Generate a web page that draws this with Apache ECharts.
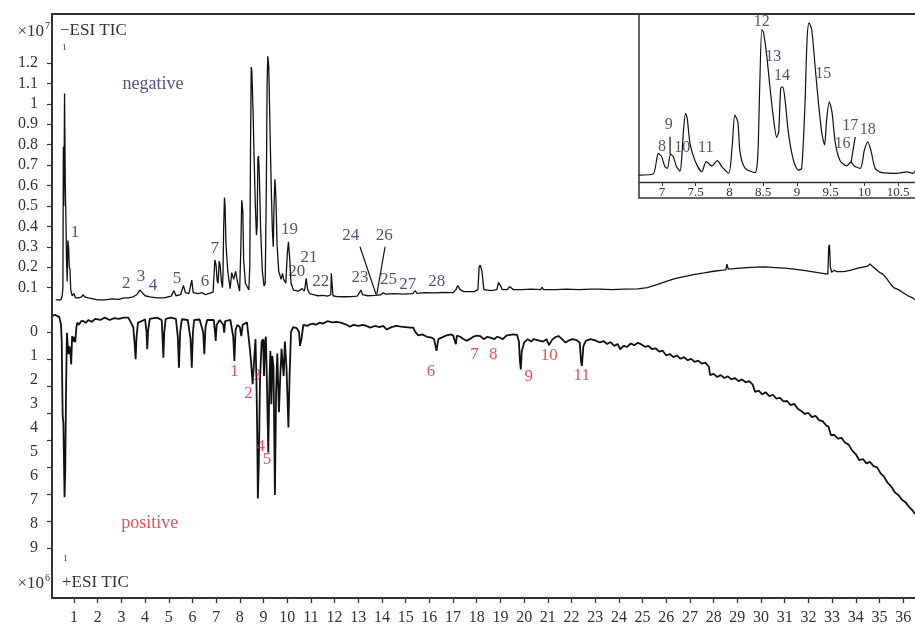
<!DOCTYPE html>
<html><head><meta charset="utf-8">
<script src="https://cdn.jsdelivr.net/npm/echarts@6/dist/echarts.min.js"></script>
<style>html,body{margin:0;padding:0;background:#fff}#c{width:915px;height:626px}</style>
</head><body><div id="c"></div>
<script>
const FONT = 'Liberation Serif';
const NAVY = '#1f2a62';
const RED = '#e8202a';
const INK = '#111';
const AXIS = '#333';

// ---- tick labels ----
const xTicks = [1,2,3,4,5,6,7,8,9,10,11,12,13,14,15,16,17,18,19,20,21,22,23,24,25,26,27,28,29,30,31,32,33,34,35,36];
const negYTicks = [0.1,0.2,0.3,0.4,0.5,0.6,0.7,0.8,0.9,1,1.1,1.2];
const posYLabels = [0,1,2,3,4,5,6,7,8,9];
const posYMarks = [0,1,2,3,4,5,6,7,8];
const insetTicks = [7,7.5,8,8.5,9,9.5,10,10.5];

// ---- negative mode, -ESI TIC (x10^7): [time min, intensity] ----
const negStart = [[0.23,0.04],[0.45,0.04],[0.5,0.06],[0.53,0.1],[0.55,0.79],[0.57,0.5],[0.6,1.05],[0.63,0.61],[0.66,0.42],[0.68,0.25],[0.71,0.13],[0.74,0.33],[0.77,0.3],[0.8,0.2],[0.83,0.19],[0.86,0.09],[0.92,0.06],[1.0,0.07],[1.06,0.05],[1.2,0.05],[1.32,0.055],[1.38,0.065],[1.45,0.055],[1.6,0.05],[1.8,0.045],[2.0,0.04],[2.3,0.04],[2.6,0.045],[2.9,0.042],[3.1,0.05],[3.3,0.05],[3.5,0.055],[3.65,0.065],[3.78,0.088],[3.88,0.075],[4.0,0.06],[4.2,0.055],[4.5,0.05],[4.8,0.05],[5.1,0.058],[5.22,0.085],[5.3,0.06],[5.5,0.065],[5.62,0.11],[5.7,0.075],[5.85,0.07],[5.97,0.137],[6.03,0.075],[6.25,0.07],[6.4,0.075],[6.48,0.075],[6.55,0.065],[6.62,0.07]];
const negZoom = [[6.67,0.07],[6.87,0.078],[6.945,0.236],[6.995,0.21],[7.045,0.133],[7.08,0.121],[7.128,0.23],[7.168,0.21],[7.217,0.133],[7.267,0.10],[7.29,0.18],[7.316,0.388],[7.35,0.541],[7.375,0.503],[7.415,0.312],[7.49,0.18],[7.59,0.095],[7.657,0.173],[7.74,0.14],[7.82,0.18],[7.89,0.133],[7.99,0.083],[8.04,0.286],[8.08,0.528],[8.124,0.477],[8.16,0.236],[8.235,0.121],[8.38,0.088],[8.42,0.21],[8.45,0.77],[8.48,1.18],[8.505,1.16],[8.555,0.973],[8.6,0.744],[8.65,0.515],[8.7,0.358],[8.73,0.40],[8.76,0.732],[8.79,0.744],[8.825,0.642],[8.875,0.388],[8.95,0.18],[9.02,0.108],[9.07,0.121],[9.12,0.617],[9.15,1.10],[9.18,1.233],[9.22,1.18],[9.27,0.897],[9.32,0.617],[9.37,0.388],[9.41,0.30],[9.44,0.49],[9.48,0.63],[9.52,0.55],[9.57,0.312],[9.64,0.18],[9.74,0.14],[9.8,0.17],[9.85,0.14],[9.94,0.121],[10.0,0.26],[10.05,0.324],[10.1,0.25],[10.16,0.121],[10.26,0.088],[10.48,0.083],[10.63,0.095],[10.72,0.083]];
const negEnd = [[10.75,0.1],[10.8,0.145],[10.86,0.09],[10.95,0.07],[11.1,0.065],[11.3,0.06],[11.5,0.062],[11.7,0.058],[11.84,0.065],[11.86,0.17],[11.9,0.165],[11.93,0.06],[12.1,0.056],[12.4,0.055],[12.7,0.056],[12.95,0.058],[13.05,0.075],[13.11,0.088],[13.18,0.065],[13.4,0.06],[13.7,0.062],[13.95,0.065],[14.05,0.075],[14.15,0.068],[14.5,0.07],[14.9,0.068],[15.3,0.07],[15.4,0.085],[15.48,0.072],[15.8,0.075],[16.2,0.074],[16.6,0.076],[17.0,0.075],[17.12,0.09],[17.2,0.11],[17.3,0.09],[17.45,0.08],[17.9,0.08],[18.05,0.09],[18.1,0.2],[18.15,0.21],[18.22,0.18],[18.3,0.09],[18.6,0.085],[18.85,0.09],[18.92,0.125],[19.0,0.11],[19.08,0.09],[19.3,0.09],[19.38,0.105],[19.45,0.11],[19.55,0.09],[19.9,0.09],[20.3,0.092],[20.7,0.09],[20.75,0.102],[20.82,0.09],[21.3,0.09],[21.8,0.092],[22.3,0.09],[22.8,0.092],[23.2,0.092],[23.7,0.09],[24.2,0.092],[24.8,0.094],[25.2,0.1],[25.6,0.115],[26.0,0.13],[26.4,0.145],[26.8,0.155],[27.2,0.165],[27.6,0.172],[28.0,0.18],[28.4,0.186],[28.52,0.188],[28.56,0.215],[28.62,0.19],[28.7,0.186],[29.0,0.194],[29.4,0.198],[29.8,0.2],[30.2,0.201],[30.6,0.198],[31.0,0.195],[31.4,0.19],[31.8,0.184],[32.2,0.177],[32.6,0.17],[32.82,0.166],[32.86,0.3],[32.89,0.31],[32.93,0.2],[32.98,0.175],[33.1,0.185],[33.2,0.178],[33.5,0.178],[33.8,0.185],[34.1,0.195],[34.3,0.2],[34.5,0.205],[34.6,0.215],[34.7,0.205],[34.85,0.19],[35.0,0.175],[35.15,0.165],[35.3,0.145],[35.45,0.12],[35.6,0.1],[35.8,0.09],[36.0,0.075],[36.2,0.06],[36.4,0.05],[36.5,0.04]];

// ---- positive mode, +ESI TIC (x10^6, drawn downward) ----
const posStart = [[0.09,-0.67],[0.2,-0.72],[0.38,-0.62],[0.45,-0.3],[0.48,0.37],[0.52,3.5],[0.55,3.78],[0.6,6.9],[0.63,5.73],[0.66,2.6],[0.7,0.03],[0.73,0.5],[0.77,0.93],[0.8,0.6],[0.84,0.72],[0.88,1.35],[0.92,0.17],[0.97,0.4],[1.0,0.2],[1.05,0.43],[1.1,-0.2],[1.14,-0.39],[1.2,-0.3],[1.3,-0.45],[1.39,-0.46],[1.5,-0.38],[1.6,-0.5],[1.75,-0.42],[1.9,-0.55],[2.1,-0.5],[2.3,-0.6],[2.5,-0.5],[2.7,-0.58],[2.9,-0.55],[3.1,-0.6],[3.29,-0.6],[3.4,-0.4],[3.5,-0.2],[3.56,0.5],[3.6,1.14],[3.64,0.2],[3.7,-0.39],[3.85,-0.45],[4.0,-0.53],[4.06,0.0],[4.09,0.72],[4.13,-0.1],[4.2,-0.55],[4.5,-0.6],[4.7,-0.5],[4.74,0.3],[4.77,1.07],[4.81,0.0],[4.87,-0.55],[5.1,-0.6],[5.3,-0.55],[5.38,0.2],[5.43,1.49],[5.48,0.0],[5.55,-0.53],[5.8,-0.5],[5.92,0.3],[5.97,1.49],[6.02,0.0],[6.07,-0.5],[6.3,-0.52],[6.45,0.0],[6.5,0.93],[6.55,-0.2],[6.62,-0.5],[6.9,-0.5],[6.96,0.1],[6.98,0.37],[7.02,-0.3],[7.15,-0.5],[7.3,-0.3],[7.34,0.03],[7.38,-0.45],[7.6,-0.5],[7.72,0.2],[7.77,1.21],[7.82,-0.1],[7.9,-0.3],[8.0,-0.2],[8.06,0.17],[8.12,-0.3],[8.3,-0.4],[8.4,0.5],[8.47,1.2],[8.54,2.18],[8.6,1.2],[8.66,0.3],[8.7,2.0],[8.73,4.0],[8.76,6.95],[8.8,5.5],[8.85,2.0],[8.92,0.4],[8.98,0.3],[9.02,1.84],[9.06,0.4],[9.1,0.2],[9.15,2.5],[9.2,5.03],[9.25,2.0],[9.29,0.8],[9.33,3.02],[9.37,1.0],[9.42,1.5],[9.48,6.8],[9.53,2.5],[9.58,0.9],[9.65,3.35],[9.7,2.0],[9.76,0.7],[9.85,1.84],[9.9,0.4],[9.97,1.5],[10.05,3.99],[10.1,1.8],[10.16,0.0],[10.25,-0.2],[10.4,-0.16],[10.5,0.0],[10.54,0.58],[10.6,0.3],[10.68,-0.3],[10.85,-0.25],[10.96,-0.32]];
const posMid = [[11.1,-0.35],[11.2,-0.3],[11.38,-0.39],[11.5,-0.35],[11.7,-0.45],[11.9,-0.4],[12.1,-0.42],[12.3,-0.38],[12.5,-0.3],[12.65,-0.22],[12.8,-0.3],[13.0,-0.25],[13.2,-0.3],[13.35,-0.25],[13.5,-0.18],[13.7,-0.25],[13.9,-0.2],[14.05,-0.25],[14.2,-0.1],[14.4,-0.2],[14.6,-0.25],[14.8,-0.22],[15.0,-0.2],[15.2,-0.18],[15.32,-0.18],[15.4,0.0],[15.53,0.14],[15.7,0.1],[15.9,0.2],[16.1,0.24],[16.2,0.3],[16.3,0.79],[16.38,0.3],[16.45,0.24],[16.7,0.15],[16.9,0.1],[17.0,0.14],[17.08,0.1],[17.12,0.51],[17.16,0.15],[17.3,0.2],[17.45,0.3],[17.57,0.37],[17.7,0.3],[17.85,0.2],[18.0,0.15],[18.14,0.17],[18.3,0.3],[18.45,0.2],[18.6,0.25],[18.75,0.3],[18.85,0.2],[18.98,0.24],[19.1,0.3],[19.25,0.15],[19.4,0.12],[19.53,0.1],[19.7,0.12],[19.78,0.4],[19.82,1.2],[19.86,1.56],[19.9,0.8],[20.0,0.44],[20.15,0.3],[20.3,0.4],[20.4,0.3],[20.6,0.35],[20.8,0.4],[20.95,0.3],[21.05,0.55],[21.12,0.58],[21.2,0.3],[21.35,0.2],[21.45,0.17],[21.6,0.3],[21.75,0.44],[21.9,0.35],[22.05,0.3],[22.22,0.34],[22.35,0.45],[22.4,1.2],[22.44,1.42],[22.5,0.6],[22.6,0.37],[22.8,0.3],[23.0,0.35]];
const posEnd = [[23.2,0.44],[23.35,0.38],[23.5,0.5],[23.65,0.42],[23.8,0.58],[23.95,0.5],[24.05,0.72],[24.2,0.58],[24.35,0.62],[24.5,0.48],[24.65,0.55],[24.8,0.45],[24.95,0.52],[25.1,0.62],[25.25,0.58],[25.4,0.72],[25.55,0.68],[25.7,0.82],[25.85,0.78],[26.0,0.98],[26.15,0.92],[26.3,1.05],[26.45,0.98],[26.6,1.12],[26.75,1.05],[26.9,1.18],[27.05,1.12],[27.2,1.25],[27.35,1.2],[27.5,1.32],[27.65,1.28],[27.8,1.45],[27.85,1.8],[28.0,1.75],[28.15,1.88],[28.3,1.8],[28.45,1.92],[28.6,1.85],[28.75,1.98],[28.9,1.92],[29.05,2.05],[29.2,1.98],[29.35,2.1],[29.5,2.05],[29.65,2.2],[29.75,2.5],[29.9,2.45],[30.05,2.6],[30.2,2.52],[30.35,2.68],[30.5,2.62],[30.65,2.78],[30.8,2.75],[30.95,2.9],[31.1,2.88],[31.25,3.05],[31.4,3.0],[31.55,3.2],[31.7,3.3],[31.85,3.42],[32.0,3.38],[32.15,3.55],[32.3,3.5],[32.45,3.68],[32.6,3.72],[32.75,3.9],[32.85,3.95],[32.95,4.3],[33.1,4.3],[33.25,4.45],[33.4,4.42],[33.55,4.62],[33.7,4.7],[33.85,4.95],[34.0,5.1],[34.15,5.35],[34.3,5.3],[34.45,5.48],[34.6,5.42],[34.75,5.6],[34.9,5.65],[35.05,5.9],[35.2,6.05],[35.35,6.3],[35.5,6.45],[35.65,6.7],[35.8,6.8],[35.95,7.0],[36.1,7.1],[36.25,7.3],[36.4,7.45],[36.5,7.6]];

// ---- peak labels [text, time, intensity] ----
const negLabels = [['1',1.04,0.372],['2',3.2,0.118],['3',3.83,0.152],['4',4.33,0.108],['5',5.35,0.142],['6',6.53,0.132],['7',6.94,0.292],['19',10.1,0.382],['20',10.4,0.178],['21',10.92,0.245],['22',11.41,0.129],['23',13.07,0.147],['24',12.68,0.357],['25',14.27,0.137],['26',14.1,0.357],['27',15.09,0.113],['28',16.31,0.129]];
const posLabels = [['1',7.77,1.67],['2',8.36,2.57],['3',8.71,1.81],['4',8.88,4.76],['5',9.15,5.31],['6',16.07,1.63],['7',17.9,0.93],['8',18.7,0.93],['9',20.19,1.84],['10',21.06,1.0],['11',22.43,1.81]];
const insetLabels = [['8',7.0,0.286],['9',7.10,0.452],['10',7.30,0.278],['11',7.65,0.278],['12',8.48,1.24],['13',8.65,0.973],['14',8.78,0.826],['15',9.39,0.846],['16',9.675,0.307],['17',9.79,0.444],['18',10.05,0.419]];
const modeLabels = [['negative',4.33,1.097]];
const modeLabelsPos = [['positive',4.2,8.0]];
// leader lines
const mainLeaders = [[[13.07,0.30],[13.75,0.067]],[[14.13,0.30],[13.78,0.067]]];
const insetLeaders = [[[7.12,0.362],[7.12,0.23]],[[9.864,0.362],[9.80,0.159]]];

const negTrace = negStart.concat(negZoom, negEnd);
const posTrace = posStart.concat(posMid, posEnd);

const chart = echarts.init(document.getElementById('c'), null, {renderer: 'canvas'});

function labelSeries(list, xi, yi, color, size) {
  return {
    type: 'scatter', xAxisIndex: xi, yAxisIndex: yi, symbolSize: 1, silent: true,
    itemStyle: {color: 'rgba(0,0,0,0)'},
    data: list.map(d => ({name: d[0], value: [d[1], d[2]]})),
    label: {show: true, position: 'inside', formatter: '{b}', color: color, fontFamily: FONT, fontSize: size},
    z: 5
  };
}
function leaderSeries(seg, xi, yi) {
  return {type: 'line', xAxisIndex: xi, yAxisIndex: yi, data: seg, showSymbol: false, silent: true,
    lineStyle: {color: INK, width: 1.2}, z: 4};
}

const option = {
  animation: false,
  backgroundColor: '#fff',
  grid: [
    {left: 52, right: 0, top: 14, height: 294},
    {left: 52, right: 0, top: 308, height: 290},
    {left: 52, right: 0, top: 305.7, height: 292.3},
    {left: 639, right: 0, top: 14, height: 168}
  ],
  xAxis: [
    {gridIndex: 0, type: 'value', min: 0.07, max: 36.5, position: 'top',
      axisLine: {show: true, onZero: false, lineStyle: {color: AXIS, width: 2}}, axisTick: {show: false}, axisLabel: {show: false}, splitLine: {show: false}},
    {gridIndex: 1, type: 'value', min: 0.07, max: 36.5, position: 'bottom',
      axisLine: {show: true, onZero: false, lineStyle: {color: AXIS, width: 2}},
      axisTick: {show: true, length: 5, customValues: xTicks, lineStyle: {color: AXIS, width: 1.3}},
      axisLabel: {show: true, customValues: xTicks, fontFamily: FONT, fontSize: 16, color: AXIS, margin: 12},
      splitLine: {show: false}},
    {gridIndex: 2, type: 'value', min: 0.07, max: 36.5, show: false},
    {gridIndex: 3, type: 'value', min: 6.66, max: 10.75, position: 'bottom',
      axisLine: {show: true, onZero: false, lineStyle: {color: AXIS, width: 1.3}},
      axisTick: {show: true, length: 4, customValues: insetTicks, lineStyle: {color: AXIS, width: 1}},
      axisLabel: {show: true, customValues: insetTicks, fontFamily: FONT, fontSize: 13, color: AXIS, margin: 4},
      splitLine: {show: false}}
  ],
  yAxis: [
    {gridIndex: 0, type: 'value', min: 0, max: 1.44,
      axisLine: {show: true, onZero: false, lineStyle: {color: AXIS, width: 2}},
      axisTick: {show: true, length: 5, customValues: negYTicks, lineStyle: {color: AXIS, width: 1.2}},
      axisLabel: {show: true, customValues: negYTicks, fontFamily: FONT, fontSize: 16, color: AXIS, margin: 14},
      splitLine: {show: false}},
    {gridIndex: 1, type: 'value', inverse: true, min: -1, max: 11.1,
      axisLine: {show: true, onZero: false, lineStyle: {color: AXIS, width: 2}},
      axisTick: {show: false},
      axisLabel: {show: true, customValues: posYLabels, fontFamily: FONT, fontSize: 16, color: AXIS, margin: 14},
      splitLine: {show: false}},
    {gridIndex: 2, type: 'value', inverse: true, min: -1, max: 9.84,
      axisLine: {show: false},
      axisTick: {show: true, length: 5, customValues: posYMarks, lineStyle: {color: AXIS, width: 1.2}},
      axisLabel: {show: false}, splitLine: {show: false}},
    {gridIndex: 3, type: 'value', min: 0.017, max: 1.3, show: false}
  ],
  graphic: [
    {type: 'rect', shape: {x: 639, y: 14, width: 290, height: 184}, style: {fill: 'none', stroke: AXIS, lineWidth: 1.5}, z: 10},
    {type: 'text', x: 44, y: 32, style: {text: '×10', font: '17px "Liberation Serif"', fill: AXIS, align: 'right', verticalAlign: 'middle'}},
    {type: 'text', x: 45, y: 26, style: {text: '7', font: '10px "Liberation Serif"', fill: AXIS, align: 'left', verticalAlign: 'middle'}},
    {type: 'text', x: 60, y: 31, style: {text: '−ESI TIC', font: '17px "Liberation Serif"', fill: AXIS, align: 'left', verticalAlign: 'middle'}},
    {type: 'text', x: 62, y: 48, style: {text: '1', font: '9px "Liberation Serif"', fill: AXIS, align: 'left', verticalAlign: 'middle'}},
    {type: 'text', x: 44, y: 584, style: {text: '×10', font: '17px "Liberation Serif"', fill: AXIS, align: 'right', verticalAlign: 'middle'}},
    {type: 'text', x: 45, y: 578, style: {text: '6', font: '10px "Liberation Serif"', fill: AXIS, align: 'left', verticalAlign: 'middle'}},
    {type: 'text', x: 62, y: 583, style: {text: '+ESI TIC', font: '17px "Liberation Serif"', fill: AXIS, align: 'left', verticalAlign: 'middle'}},
    {type: 'text', x: 63, y: 559, style: {text: '1', font: '9px "Liberation Serif"', fill: AXIS, align: 'left', verticalAlign: 'middle'}}
  ],
  series: [
    {name: '-ESI TIC', type: 'line', xAxisIndex: 0, yAxisIndex: 0, data: negTrace, showSymbol: false, silent: true,
      lineStyle: {color: INK, width: 1.3}, z: 3},
    {name: '+ESI TIC', type: 'line', xAxisIndex: 1, yAxisIndex: 1, data: posTrace, showSymbol: false, silent: true,
      lineStyle: {color: INK, width: 1.8}, z: 3},
    {name: 'inset', type: 'line', xAxisIndex: 3, yAxisIndex: 3, data: negTrace, showSymbol: false, silent: true, clip: true,
      smooth: 0.25, lineStyle: {color: INK, width: 1.2}, z: 3},
    labelSeries(negLabels, 0, 0, NAVY, 17),
    labelSeries(modeLabels, 0, 0, NAVY, 18),
    labelSeries(posLabels, 1, 1, RED, 17),
    labelSeries(modeLabelsPos, 1, 1, RED, 18),
    labelSeries(insetLabels, 3, 3, NAVY, 16),
    leaderSeries(mainLeaders[0], 0, 0),
    leaderSeries(mainLeaders[1], 0, 0),
    leaderSeries(insetLeaders[0], 3, 3),
    leaderSeries(insetLeaders[1], 3, 3)
  ]
};
chart.setOption(option);
</script>
</body></html>
